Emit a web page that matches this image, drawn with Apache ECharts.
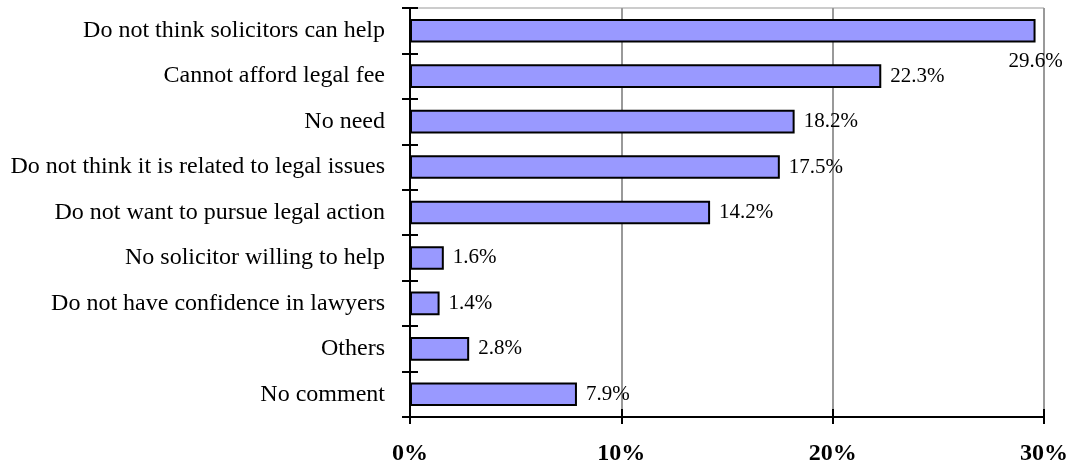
<!DOCTYPE html>
<html><head><meta charset="utf-8">
<script src="https://cdn.jsdelivr.net/npm/echarts@6/dist/echarts.min.js"></script>
<style>html,body{margin:0;padding:0;background:#fff}#c{width:1075px;height:467px}</style>
</head><body><div id="c"></div>
<script>
const categories = [
  "Do not think solicitors can help",
  "Cannot afford legal fee",
  "No need",
  "Do not think it is related to legal issues",
  "Do not want to pursue legal action",
  "No solicitor willing to help",
  "Do not have confidence in lawyers",
  "Others",
  "No comment"
];
const values = [29.6, 22.3, 18.2, 17.5, 14.2, 1.6, 1.4, 2.8, 7.9];
const xTicks = [0, 10, 20, 30];

const FONT = "'Liberation Serif', 'Times New Roman', serif";
const chart = echarts.init(document.getElementById('c'), null, {renderer: 'canvas'});
const data = values.map((v, i) => {
  const d = {value: v};
  if (i === 0) {
    d.label = {position: ['100%', '100%'], align: 'center', verticalAlign: 'top', offset: [0, 8]};
  }
  return d;
});
chart.setOption({
  animation: false,
  grid: {left: 410, right: 31, top: 8, bottom: 50, show: true, borderColor: '#999', borderWidth: 1},
  xAxis: [{
    type: 'value', min: xTicks[0], max: xTicks[xTicks.length - 1], interval: 10,
    axisLine: {show: true, lineStyle: {color: '#000', width: 2}},
    axisTick: {show: true, length: 7, lineStyle: {color: '#000', width: 2}},
    axisLabel: {formatter: v => v + '%', fontFamily: FONT, fontWeight: 'bold', fontSize: 24, color: '#000', margin: 25},
    splitLine: {show: true, lineStyle: {color: '#999', width: 2}}
  }, {
    type: 'value', position: 'bottom', min: xTicks[0], max: xTicks[xTicks.length - 1], interval: 10,
    axisLine: {show: false},
    axisTick: {show: true, inside: true, length: 8, lineStyle: {color: '#000', width: 2}},
    axisLabel: {show: false}, splitLine: {show: false}
  }],
  yAxis: [{
    type: 'category', data: categories, inverse: true,
    axisLine: {show: true, lineStyle: {color: '#000', width: 2}},
    axisTick: {show: true, length: 8, lineStyle: {color: '#000', width: 2}},
    axisLabel: {fontFamily: FONT, fontSize: 24, color: '#000', margin: 25}
  }, {
    type: 'category', data: categories, inverse: true, position: 'left',
    axisLine: {show: false},
    axisTick: {show: true, inside: true, length: 8, lineStyle: {color: '#000', width: 2}},
    axisLabel: {show: false}
  }],
  series: [{
    type: 'bar', xAxisIndex: 0, yAxisIndex: 0, data: data,
    barCategoryGap: '48%',
    itemStyle: {color: '#9999ff', borderColor: '#000', borderWidth: 2},
    label: {show: true, position: 'right', distance: 9, formatter: p => p.value.toFixed(1) + '%',
      fontFamily: FONT, fontSize: 21, color: '#000'}
  }]
});
</script></body></html>
